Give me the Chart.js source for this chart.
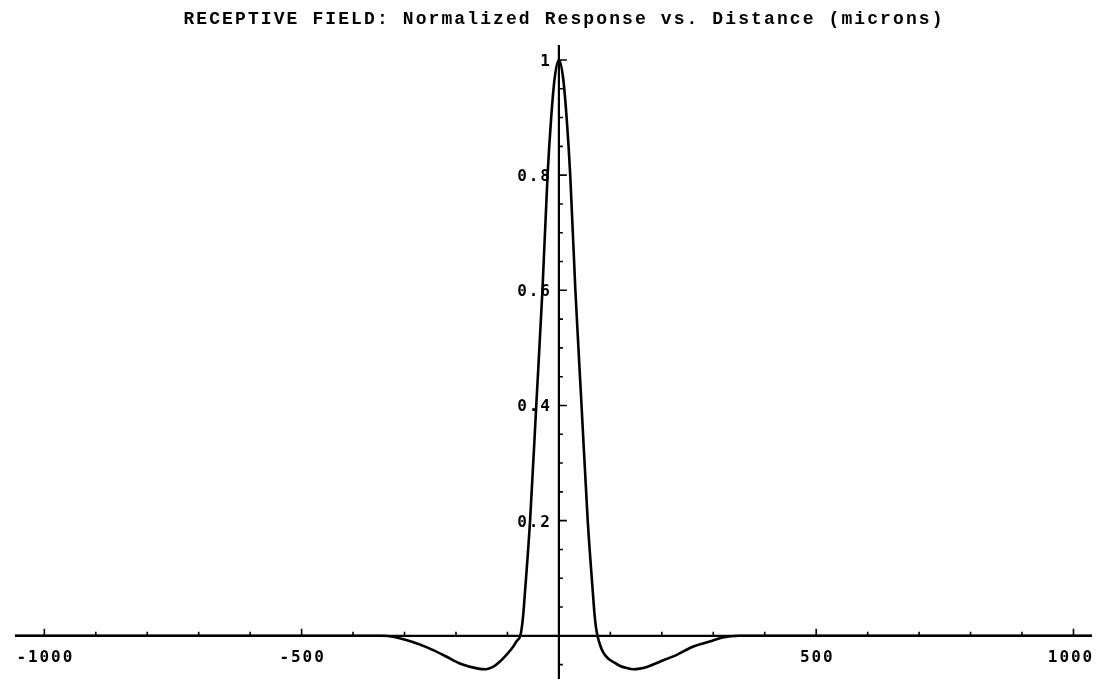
<!DOCTYPE html>
<html>
<head>
<meta charset="utf-8">
<script src="https://cdn.jsdelivr.net/npm/chart.js@4/dist/chart.umd.min.js"></script>
<style>
  html, body { margin: 0; padding: 0; background: #fff; }
  #wrap { width: 1098px; height: 679px; position: relative; }
</style>
</head>
<body>
<div id="wrap"><canvas id="c"></canvas></div>
<script>
// ---- data ----
const titleText = 'RECEPTIVE FIELD: Normalized Response vs. Distance (microns)';
const distance = [-1057, -900, -700, -500, -400, -345, -320, -287, -254, -221, -190, -157, -142, -128, -115, -102, -89, -82, -75, -72, -69, -66, -56, -44, -32, -22, -15, -8, 0, 8, 15, 22, 32, 44, 56, 66, 69, 72, 75, 80, 85, 95, 105, 118, 132, 144, 157, 171, 196, 229, 260, 293, 318, 350, 400, 500, 700, 900, 1036];
const response = [0, 0, 0, 0, 0, 0, -0.002, -0.010, -0.021, -0.035, -0.049, -0.057, -0.058, -0.054, -0.045, -0.033, -0.019, -0.009, 0, 0.015, 0.04, 0.075, 0.2, 0.4, 0.6, 0.8, 0.9, 0.97, 1.0, 0.97, 0.9, 0.8, 0.6, 0.4, 0.2, 0.075, 0.04, 0.015, 0, -0.016, -0.027, -0.039, -0.045, -0.052, -0.056, -0.058, -0.057, -0.054, -0.045, -0.033, -0.019, -0.010, -0.003, 0, 0, 0, 0, 0, 0];
const xMajorTicks = [-1000, -500, 500, 1000];
const xTickLabels = ['-1000', '-500', '500', '1000'];
const xMinorTicks = [-1000, -900, -800, -700, -600, -500, -400, -300, -200, -100, 100, 200, 300, 400, 500, 600, 700, 800, 900, 1000];
const yMajorTicks = [0.2, 0.4, 0.6, 0.8, 1];
const yTickLabels = ['0.2', '0.4', '0.6', '0.8', '1'];
const yMinorTicks = [-0.05, 0.05, 0.1, 0.15, 0.2, 0.25, 0.3, 0.35, 0.4, 0.45, 0.5, 0.55, 0.6, 0.65, 0.7, 0.75, 0.8, 0.85, 0.9, 0.95, 1];
const xRange = [-1057, 1036];
const yRange = [-0.075, 1.026];

const points = distance.map((d, i) => ({ x: d, y: response[i] }));

const TITLE_FONT = '"Liberation Mono", "DejaVu Sans Mono", monospace';
const TICK_FONT = '"DejaVu Sans Mono", "Liberation Mono", monospace';

const crossAxes = {
  id: 'crossAxes',
  beforeDraw(chart) {
    chart.ctx.letterSpacing = '2.1px';
  },
  afterLayout(chart) {
    if (chart.titleBlock) { chart.titleBlock.left += 21; }
  },
  afterDatasetsDraw(chart) {
    const ctx = chart.ctx;
    const xs = chart.scales.x, ys = chart.scales.y;
    const a = chart.chartArea;
    const x0 = xs.getPixelForValue(0);
    const y0 = ys.getPixelForValue(0);
    ctx.save();
    ctx.strokeStyle = '#000';
    ctx.fillStyle = '#000';
    ctx.lineCap = 'butt';
    // axis lines
    ctx.lineWidth = 2.2;
    ctx.beginPath();
    ctx.moveTo(a.left, y0); ctx.lineTo(a.right, y0);
    ctx.moveTo(x0, a.top); ctx.lineTo(x0, chart.height);
    ctx.stroke();
    // x ticks (pointing up)
    ctx.lineWidth = 1.6;
    ctx.beginPath();
    xMinorTicks.forEach(v => {
      const px = xs.getPixelForValue(v);
      const len = xMajorTicks.includes(v) ? 7 : 4;
      ctx.moveTo(px, y0); ctx.lineTo(px, y0 - len);
    });
    // y ticks (pointing right)
    yMinorTicks.forEach(v => {
      const py = ys.getPixelForValue(v);
      const len = yMajorTicks.includes(v) ? 8 : 4;
      ctx.moveTo(x0, py); ctx.lineTo(x0 + len, py);
    });
    ctx.stroke();
    // labels
    ctx.font = 'bold 16px ' + TICK_FONT;
    ctx.letterSpacing = '1.9px';
    ctx.textBaseline = 'alphabetic';
    ctx.textAlign = 'center';
    xMajorTicks.forEach((v, i) => {
      let cx = xs.getPixelForValue(v) + 1;
      const w = ctx.measureText(xTickLabels[i]).width;
      if (cx + w / 2 > chart.width - 4) { cx = chart.width - 4 - w / 2; }
      ctx.fillText(xTickLabels[i], cx, y0 + 26);
    });
    ctx.textAlign = 'right';
    yMajorTicks.forEach((v, i) => {
      ctx.fillText(yTickLabels[i], x0 - 7, ys.getPixelForValue(v) + 6);
    });
    ctx.restore();
  },
  afterDraw(chart) {
    chart.ctx.letterSpacing = '0px';
  }
};

new Chart(document.getElementById('c'), {
  type: 'scatter',
  data: {
    datasets: [{
      data: points,
      showLine: true,
      borderColor: '#000',
      borderWidth: 2.6,
      pointRadius: 0,
      cubicInterpolationMode: 'monotone',
      fill: false
    }]
  },
  options: {
    responsive: true,
    maintainAspectRatio: false,
    animation: false,
    devicePixelRatio: 1,
    layout: { padding: { left: 15, right: 6, top: 0, bottom: 0 } },
    scales: {
      x: { type: 'linear', min: xRange[0], max: xRange[1], display: false },
      y: { type: 'linear', min: yRange[0], max: yRange[1], display: false }
    },
    plugins: {
      legend: { display: false },
      tooltip: { enabled: false },
      title: {
        display: true,
        text: titleText,
        color: '#000',
        font: { family: TITLE_FONT, size: 18, weight: 'bold', lineHeight: 1.2 },
        padding: { top: 8.2, bottom: 15.2 }
      }
    }
  },
  plugins: [crossAxes]
});
</script>
</body>
</html>
